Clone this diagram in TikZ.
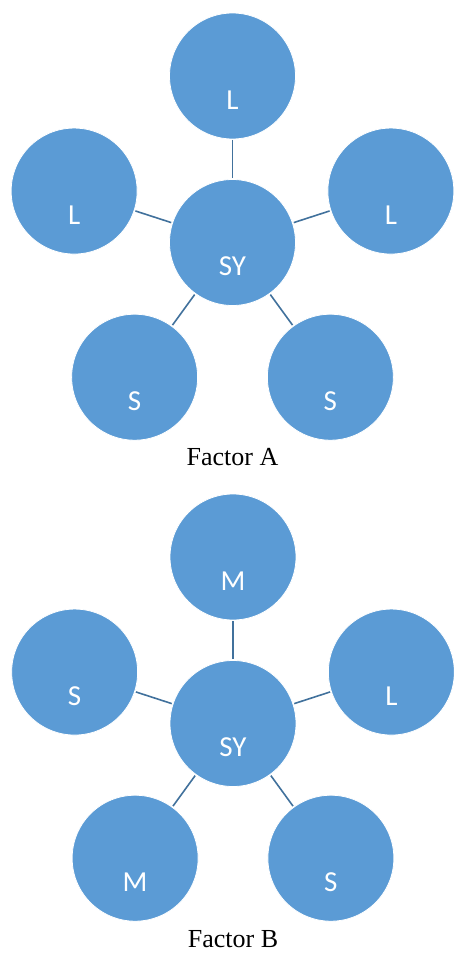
\documentclass[tikz,border=0pt]{standalone}
\usepackage{fontspec}
\setmainfont{Liberation Serif}
\newfontfamily\bubblefont{Carlito}
\usepackage{xcolor}
\usepackage{tikz}
\usetikzlibrary{calc}
\usetikzlibrary{positioning}
\definecolor{bubblecol}{HTML}{5B9BD5}
\definecolor{spokecol}{HTML}{41719C}

\begin{document}
\begin{tikzpicture}[-,x=1pt,y=-1pt,auto]
  \tikzstyle{bubble}=[circle, fill=bubblecol, draw=white, line width=0.8pt,
                      minimum size=126pt, inner sep=0pt, text=white,
                      font=\bubblefont\fontsize{29}{29}\selectfont,
                      text height=66pt, text depth=0pt]
  \tikzstyle{spoke}=[draw=spokecol, line width=1.6pt, shorten >=1pt, shorten <=1pt]
  \tikzstyle{caption}=[font=\fontsize{26}{26}\selectfont]
  \useasboundingbox (0,0) rectangle (454,953);

  % Factor A
  \node[bubble] (SYa) at (232.5,242.5) {SY};
  \node[bubble] (Ta)  at ($(SYa)+(90:166.5pt)$)  {L};
  \node[bubble] (La)  at ($(SYa)+(162:166.5pt)$) {L};
  \node[bubble] (Ra)  at ($(SYa)+(18:166.5pt)$)  {L};
  \node[bubble] (BLa) at ($(SYa)+(234:166.5pt)$) {S};
  \node[bubble] (BRa) at ($(SYa)+(306:166.5pt)$) {S};
  \path (SYa) edge[spoke] (Ta)
              edge[spoke] (La)
              edge[spoke] (Ra)
              edge[spoke] (BLa)
              edge[spoke] (BRa);
  \node[caption] (capA) at (232.5,457) {Factor A};

  % Factor B
  \node[bubble] (SYb) at (233,723.5) {SY};
  \node[bubble] (Tb)  at ($(SYb)+(90:166.5pt)$)  {M};
  \node[bubble] (Lb)  at ($(SYb)+(162:166.5pt)$) {S};
  \node[bubble] (Rb)  at ($(SYb)+(18:166.5pt)$)  {L};
  \node[bubble] (BLb) at ($(SYb)+(234:166.5pt)$) {M};
  \node[bubble] (BRb) at ($(SYb)+(306:166.5pt)$) {S};
  \path (SYb) edge[spoke] (Tb)
              edge[spoke] (Lb)
              edge[spoke] (Rb)
              edge[spoke] (BLb)
              edge[spoke] (BRb);
  \node[caption] (capB) at (233,939) {Factor B};
\end{tikzpicture}
\end{document}
